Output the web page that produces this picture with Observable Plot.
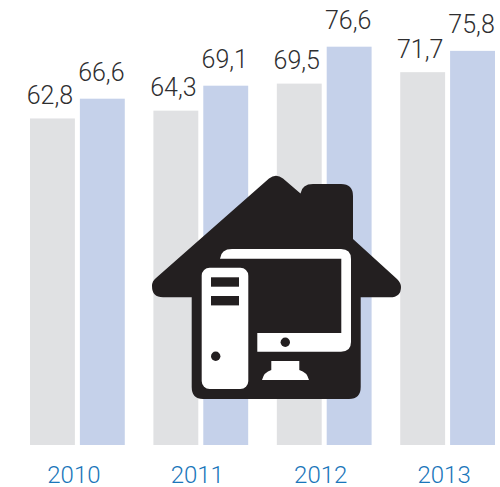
<!DOCTYPE html>
<html>
<head>
<meta charset="utf-8">
<script src="https://cdn.jsdelivr.net/npm/d3@7"></script>
<script src="https://cdn.jsdelivr.net/npm/@observablehq/plot@0.6"></script>
<style>html,body{margin:0;padding:0;background:#fff}svg{display:block}</style>
</head>
<body>
<div id="chart"></div>
<script>
const years = ["2010", "2011", "2012", "2013"];
const seriesNames = ["A", "B"];
const seriesA = [62.8, 64.3, 69.5, 71.7];
const seriesB = [66.6, 69.1, 76.6, 75.8];
const seriesColors = ["#e0e1e3", "#c5d1ea"];

const rows = years.flatMap((year, i) => [
  {year, series: seriesNames[0], value: seriesA[i]},
  {year, series: seriesNames[1], value: seriesB[i]}
]);
const rowsA = rows.filter(d => d.series === seriesNames[0]);
const rowsB = rows.filter(d => d.series === seriesNames[1]);
const comma = v => v.toFixed(1).replace(".", ",");
const labelOptions = {
  fx: "year", x: "series", y: "value",
  text: d => comma(d.value),
  fontSize: 25, fontWeight: 300, fill: "#2e2e30",
  lineAnchor: "bottom"
};

// Decorative house + computer pictogram drawn once on top of the bars
function houseIcon() {
  const g = d3.create("svg:g");
  g.append("path").attr("fill", "#231f20").attr("d",
    "M269,178.5Q276,173 283,178.5L300.5,193.5Q302,184 313,184L341,184Q353,184 353,196L353,239L397,279Q401,283 401,287Q401,297.3 390,297.3L360.7,297.3L360.7,387Q360.7,399 349,399L203,399Q191.7,399 191.7,387L191.7,297.3L163,297.3Q152,297.3 152,286Q152,281 156,278Z");
  g.append("rect").attr("x", 201.7).attr("y", 267.7).attr("width", 46.6).attr("height", 121.3).attr("rx", 8).attr("fill", "#fff");
  g.append("rect").attr("x", 211).attr("y", 277.3).attr("width", 28).attr("height", 9.4).attr("fill", "#231f20");
  g.append("rect").attr("x", 211).attr("y", 296).attr("width", 28).attr("height", 9.4).attr("fill", "#231f20");
  g.append("circle").attr("cx", 215.7).attr("cy", 356.3).attr("r", 4.7).attr("fill", "#231f20");
  g.append("path").attr("fill", "#fff").attr("d",
    "M220,258.7Q221,249 232,249L341,249Q351,249 351,259L351,342Q351,351.7 341,351.7L257.3,351.7L257.3,333L341.3,333L341.3,258.7Z");
  g.append("circle").attr("cx", 285.3).attr("cy", 342.3).attr("r", 4.7).attr("fill", "#231f20");
  g.append("path").attr("fill", "#fff").attr("d",
    "M271.3,361L299.3,361L299.3,370Q307,372 309,380L262,380Q264,372 271.3,370Z");
  return g.node();
}

const chart = Plot.plot({
  width: 500,
  height: 487,
  marginTop: 0,
  marginLeft: 30,
  marginRight: 5,
  marginBottom: 42,
  style: {fontFamily: "Roboto, 'Liberation Sans', sans-serif", background: "#fff"},
  fx: {domain: years, paddingInner: 0.232, paddingOuter: 0, round: false, label: null},
  x: {domain: seriesNames, axis: null, paddingInner: 0.1, paddingOuter: 0, round: false},
  y: {domain: [0, 85.58], axis: null},
  color: {domain: seriesNames, range: seriesColors},
  marks: [
    Plot.barY(rows, {fx: "year", x: "series", y: "value", fill: "series"}),
    Plot.text(rowsA, {...labelOptions, dx: -3, dy: -15}),
    Plot.text(rowsB, {...labelOptions, dx: -1.5, dy: -18}),
    Plot.axisFx({
      anchor: "bottom", tickSize: 0, tickPadding: 20, dx: -4,
      fontSize: 24, fontWeight: 300, color: "#1a76ba", label: null
    })
  ]
});
chart.append(houseIcon());
document.getElementById("chart").append(chart);
</script>
</body>
</html>
